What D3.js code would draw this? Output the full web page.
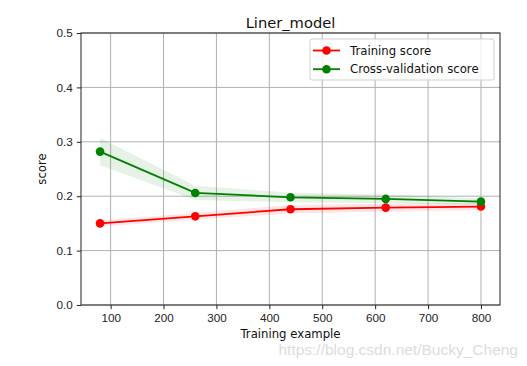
<!DOCTYPE html>
<html>
<head>
<meta charset="utf-8">
<script src="https://cdn.jsdelivr.net/npm/d3@7"></script>
<style>
  body { margin: 0; background: #fff; }
  svg { font-family: "DejaVu Sans", sans-serif; }
  .tick text { font-size: 11.7px; fill: #222; }
</style>
</head>
<body>
<svg id="chart"></svg>
<script>
// values
const trainSizes = [80, 260, 440, 620, 800];
const trainMean = [0.150, 0.163, 0.176, 0.179, 0.181];
const trainStd  = [0.006, 0.006, 0.008, 0.007, 0.007];
const cvMean = [0.282, 0.206, 0.198, 0.195, 0.190];
const cvStd  = [0.025, 0.013, 0.009, 0.008, 0.006];
const xTicks = [100, 200, 300, 400, 500, 600, 700, 800];
const yTicks = [0.0, 0.1, 0.2, 0.3, 0.4, 0.5];

const width = 527, height = 366;
const margin = { top: 33, right: 27, bottom: 61, left: 81 };

const svg = d3.select("#chart")
    .attr("width", width)
    .attr("height", height);

const x = d3.scaleLinear()
    .domain([44, 836])
    .range([margin.left, width - margin.right]);

const y = d3.scaleLinear()
    .domain([0, 0.5])
    .range([height - margin.bottom, margin.top]);

// grid
svg.append("g")
    .selectAll("line")
    .data(xTicks)
    .enter().append("line")
    .attr("x1", d => x(d)).attr("x2", d => x(d))
    .attr("y1", margin.top).attr("y2", height - margin.bottom)
    .attr("stroke", "#b0b0b0").attr("stroke-width", 1);

svg.append("g")
    .selectAll("line")
    .data(yTicks)
    .enter().append("line")
    .attr("x1", margin.left).attr("x2", width - margin.right)
    .attr("y1", d => y(d)).attr("y2", d => y(d))
    .attr("stroke", "#b0b0b0").attr("stroke-width", 1);

function drawSeries(mean, std, color) {
    const rows = trainSizes.map((s, i) => ({ s, m: mean[i], sd: std[i] }));
    const area = d3.area()
        .x(d => x(d.s))
        .y0(d => y(d.m - d.sd))
        .y1(d => y(d.m + d.sd));
    svg.append("path")
        .datum(rows)
        .attr("d", area)
        .attr("fill", color)
        .attr("fill-opacity", 0.1);

    const line = d3.line().x(d => x(d.s)).y(d => y(d.m));
    svg.append("path")
        .datum(rows)
        .attr("d", line)
        .attr("fill", "none")
        .attr("stroke", color)
        .attr("stroke-width", 1.8);

    svg.selectAll(null)
        .data(rows)
        .enter().append("circle")
        .attr("cx", d => x(d.s))
        .attr("cy", d => y(d.m))
        .attr("r", 4.3)
        .attr("fill", color);
}

drawSeries(trainMean, trainStd, "#ff0000");
drawSeries(cvMean, cvStd, "#008000");

// axes
const xAxis = svg.append("g")
    .attr("transform", `translate(0,${height - margin.bottom})`)
    .call(d3.axisBottom(x).tickValues(xTicks).tickSize(4.2).tickPadding(4));

const yAxis = svg.append("g")
    .attr("transform", `translate(${margin.left},0)`)
    .call(d3.axisLeft(y).tickValues(yTicks).tickFormat(d3.format(".1f")).tickSize(4.2).tickPadding(4));

[xAxis, yAxis].forEach(g => {
    g.select(".domain").remove();
    g.selectAll(".tick line").attr("stroke", "#222").attr("stroke-width", 1);
});

// frame
svg.append("rect")
    .attr("x", margin.left).attr("y", margin.top)
    .attr("width", width - margin.left - margin.right)
    .attr("height", height - margin.top - margin.bottom)
    .attr("fill", "none")
    .attr("stroke", "#222").attr("stroke-width", 1);

// titles
svg.append("text")
    .attr("x", (margin.left + width - margin.right) / 2)
    .attr("y", 28)
    .attr("text-anchor", "middle")
    .style("font-size", "14.7px")
    .attr("fill", "#111")
    .text("Liner_model");

svg.append("text")
    .attr("x", (margin.left + width - margin.right) / 2)
    .attr("y", 338)
    .attr("text-anchor", "middle")
    .style("font-size", "11.7px")
    .attr("fill", "#111")
    .text("Training example");

svg.append("text")
    .attr("transform", `translate(46,${(margin.top + height - margin.bottom) / 2}) rotate(-90)`)
    .attr("text-anchor", "middle")
    .style("font-size", "11.7px")
    .attr("fill", "#111")
    .text("score");

// legend
const legendItems = [
    { label: "Training score", color: "#ff0000" },
    { label: "Cross-validation score", color: "#008000" }
];
const legend = svg.append("g").attr("transform", "translate(310,39)");
legend.append("rect")
    .attr("width", 184).attr("height", 41).attr("rx", 2)
    .attr("fill", "#fff").attr("fill-opacity", 0.8)
    .attr("stroke", "#d0d0d0").attr("stroke-width", 1);
const li = legend.selectAll("g.item")
    .data(legendItems)
    .enter().append("g")
    .attr("transform", (d, i) => `translate(0,${11.5 + i * 18.7})`);
li.append("line")
    .attr("x1", 3).attr("x2", 30)
    .attr("stroke", d => d.color).attr("stroke-width", 1.8);
li.append("circle")
    .attr("cx", 16.5).attr("r", 4.3).attr("fill", d => d.color);
li.append("text")
    .attr("x", 40).attr("dy", "0.35em")
    .style("font-size", "11.7px").attr("fill", "#111")
    .text(d => d.label);

// watermark
svg.append("text")
    .attr("x", 518).attr("y", 355)
    .attr("text-anchor", "end")
    .style("font-family", "Arial, 'Liberation Sans', sans-serif")
    .style("font-size", "15.5px")
    .attr("fill", "#dcdcdc")
    .text("https://blog.csdn.net/Bucky_Cheng");
</script>
</body>
</html>
